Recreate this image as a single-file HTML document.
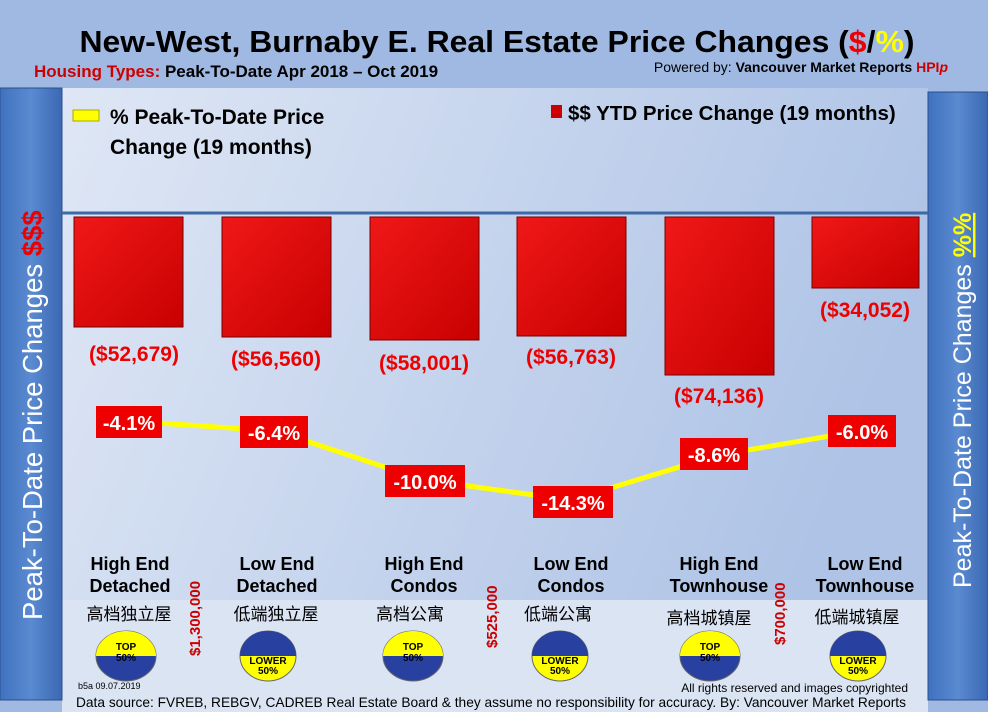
<!DOCTYPE html><html><head><meta charset="utf-8"><style>
body{margin:0;width:988px;height:712px;overflow:hidden;background:#9fb9e3;font-family:"Liberation Sans",sans-serif;}
</style></head><body>
<svg width="988" height="712" viewBox="0 0 988 712" xmlns="http://www.w3.org/2000/svg" style="position:absolute;left:0;top:0">
<defs>
<linearGradient id="bg" x1="0" y1="0" x2="1" y2="0.3"><stop offset="0" stop-color="#dfe7f5"/><stop offset="1" stop-color="#aec3e6"/></linearGradient>
<linearGradient id="side" x1="0" y1="0" x2="1" y2="0"><stop offset="0" stop-color="#3f72bf"/><stop offset="0.5" stop-color="#5a8ad0"/><stop offset="1" stop-color="#3a68b3"/></linearGradient>
<linearGradient id="bar" x1="0" y1="0" x2="1" y2="1"><stop offset="0" stop-color="#f01818"/><stop offset="1" stop-color="#c80000"/></linearGradient>
</defs>
<rect x="0" y="0" width="988" height="712" fill="#9fb9e3"/>
<rect x="62" y="88" width="866" height="624" fill="url(#bg)"/>
<rect x="62" y="600" width="866" height="112" fill="#dbe4f3"/>
<rect x="0" y="88" width="62" height="612" fill="url(#side)" stroke="#2c4f8a"/>
<rect x="928" y="92" width="60" height="608" fill="url(#side)" stroke="#2c4f8a"/>
<text transform="translate(42,620) rotate(-90)" font-size="27.5" fill="#fff">Peak-To-Date Price Changes <tspan fill="#e00" font-weight="bold">$$$</tspan></text>
<text transform="translate(971,588) rotate(-90)" font-size="25" fill="#fff">Peak-To-Date  Price  Changes  <tspan fill="#ff0" font-weight="bold" text-decoration="underline">%%</tspan></text>
<text x="497" y="52" text-anchor="middle" font-size="31" font-weight="bold" fill="#000" textLength="835" lengthAdjust="spacingAndGlyphs">New-West, Burnaby E. Real Estate Price Changes (<tspan fill="#e00">$</tspan>/<tspan fill="#ff0">%</tspan>)</text>
<text x="34" y="77" font-size="17" font-weight="bold" fill="#000"><tspan fill="#c00">Housing Types:</tspan> Peak-To-Date Apr 2018 – Oct 2019</text>
<text x="948" y="72" text-anchor="end" font-size="14" fill="#000">Powered by: <tspan font-weight="bold">Vancouver Market Reports <tspan fill="#c00">HPI<tspan font-style="italic">p</tspan></tspan></tspan></text>
<rect x="73" y="110" width="26" height="11" fill="#ff0" stroke="#aa0"/>
<text x="110" y="124" font-size="21" font-weight="bold" fill="#000">% Peak-To-Date Price</text>
<text x="110" y="154" font-size="21" font-weight="bold" fill="#000">Change (19 months)</text>
<rect x="551" y="105" width="11" height="13" fill="#c00"/>
<text x="568" y="120" font-size="20.5" font-weight="bold" fill="#000">$$ YTD Price Change (19 months)</text>
<line x1="62" y1="213" x2="928" y2="213" stroke="#3d6aa6" stroke-width="3"/>
<g fill="url(#bar)" stroke="#700" stroke-width="1">
<rect x="74" y="217" width="109" height="110"/>
<rect x="222" y="217" width="109" height="120"/>
<rect x="370" y="217" width="109" height="123"/>
<rect x="517" y="217" width="109" height="119"/>
<rect x="665" y="217" width="109" height="158"/>
<rect x="812" y="217" width="107" height="71"/>
</g>
<g font-size="21" font-weight="bold" fill="#e00" text-anchor="middle">
<text x="134" y="361">($52,679)</text><text x="276" y="366">($56,560)</text><text x="424" y="370">($58,001)</text>
<text x="571" y="364">($56,763)</text><text x="719" y="403">($74,136)</text><text x="865" y="317">($34,052)</text>
</g>
<polyline points="129,421 276,431 424,480 571,500 719,455 865,430" fill="none" stroke="#ff0" stroke-width="5"/>
<g font-size="20" font-weight="bold" fill="#fff" text-anchor="middle">
<rect x="96" y="406" width="66" height="32" fill="#e00"/><text x="129" y="430">-4.1%</text>
<rect x="240" y="416" width="68" height="32" fill="#e00"/><text x="274" y="440">-6.4%</text>
<rect x="385" y="465" width="80" height="32" fill="#e00"/><text x="425" y="489">-10.0%</text>
<rect x="533" y="486" width="80" height="32" fill="#e00"/><text x="573" y="510">-14.3%</text>
<rect x="680" y="438" width="68" height="32" fill="#e00"/><text x="714" y="462">-8.6%</text>
<rect x="828" y="415" width="68" height="32" fill="#e00"/><text x="862" y="439">-6.0%</text>
</g>
<g font-size="18" font-weight="bold" fill="#000" text-anchor="middle">
<text x="130" y="570">High End</text><text x="130" y="592">Detached</text>
<text x="277" y="570">Low End</text><text x="277" y="592">Detached</text>
<text x="424" y="570">High End</text><text x="424" y="592">Condos</text>
<text x="571" y="570">Low End</text><text x="571" y="592">Condos</text>
<text x="719" y="570">High End</text><text x="719" y="592">Townhouse</text>
<text x="865" y="570">Low End</text><text x="865" y="592">Townhouse</text>
</g>
<g font-size="17" fill="#000" text-anchor="middle" font-family="Noto Sans CJK SC,sans-serif">
<text x="129" y="620">高档独立屋</text><text x="276" y="620">低端独立屋</text><text x="410" y="620">高档公寓</text>
<text x="558" y="620">低端公寓</text><text x="709" y="624">高档城镇屋</text><text x="857" y="623">低端城镇屋</text>
</g>
<g font-size="15" font-weight="bold" fill="#c00">
<text transform="translate(200,656) rotate(-90)">$1,300,000</text>
<text transform="translate(497,648) rotate(-90)">$525,000</text>
<text transform="translate(785,645) rotate(-90)">$700,000</text>
</g>
<g font-size="10" font-weight="bold" text-anchor="middle" fill="#000">
<g transform="translate(126,656)"><ellipse rx="30" ry="25" fill="#2840a0" stroke="#666"/><path d="M-30,0 A30,25 0 0 1 30,0 Z" fill="#ff0"/><text y="-6">TOP</text><text y="5">50%</text></g>
<g transform="translate(268,656)"><ellipse rx="28" ry="25" fill="#ff0" stroke="#666"/><path d="M-28,0 A28,25 0 0 1 28,0 Z" fill="#2840a0"/><text y="8">LOWER</text><text y="18">50%</text></g>
<g transform="translate(413,656)"><ellipse rx="30" ry="25" fill="#2840a0" stroke="#666"/><path d="M-30,0 A30,25 0 0 1 30,0 Z" fill="#ff0"/><text y="-6">TOP</text><text y="5">50%</text></g>
<g transform="translate(560,656)"><ellipse rx="28" ry="25" fill="#ff0" stroke="#666"/><path d="M-28,0 A28,25 0 0 1 28,0 Z" fill="#2840a0"/><text y="8">LOWER</text><text y="18">50%</text></g>
<g transform="translate(710,656)"><ellipse rx="30" ry="25" fill="#2840a0" stroke="#666"/><path d="M-30,0 A30,25 0 0 1 30,0 Z" fill="#ff0"/><text y="-6">TOP</text><text y="5">50%</text></g>
<g transform="translate(858,656)"><ellipse rx="28" ry="25" fill="#ff0" stroke="#666"/><path d="M-28,0 A28,25 0 0 1 28,0 Z" fill="#2840a0"/><text y="8">LOWER</text><text y="18">50%</text></g>
</g>
<text x="78" y="689" font-size="9" fill="#000">b5a 09.07.2019</text>
<text x="908" y="692" text-anchor="end" font-size="12" fill="#000">All rights reserved and  images copyrighted</text>
<text x="76" y="707" font-size="14" fill="#000" textLength="830" lengthAdjust="spacingAndGlyphs">Data source: FVREB, REBGV, CADREB Real Estate Board &amp; they assume no responsibility for accuracy. By: Vancouver Market Reports</text>
</svg>
</body></html>
